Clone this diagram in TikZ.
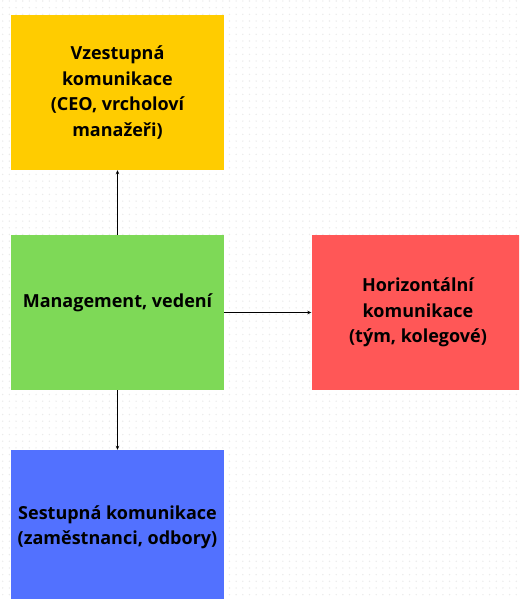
\documentclass[tikz,border=0pt]{standalone}
\usepackage{fontspec}
\setmainfont{Open Sans}
\usetikzlibrary{arrows.meta}
\definecolor{boxyellow}{HTML}{FFCC00}
\definecolor{boxgreen}{HTML}{7ED957}
\definecolor{boxred}{HTML}{FF5757}
\definecolor{boxblue}{HTML}{5271FF}
\definecolor{dotgray}{HTML}{EBEBEB}
\begin{document}
\begin{tikzpicture}[
  commblock/.style = {rectangle, inner sep = 0pt, align = flush center, minimum width = 213pt, minimum height = 155pt, font = \fontsize{18}{25.5}\selectfont\bfseries},
  x = 1pt,
  y = -1pt,
  >={Stealth[length=4pt, width=3.5pt]}
]
  \useasboundingbox (0, 0) rectangle (519, 599);
  \clip (0, 0) rectangle (519, 599);
  % background dots
  \foreach \i in {0,...,77}
    \foreach \j in {0,...,89}
      \fill[dotgray] (\i*6.67 + 2.7, \j*6.67 + 1) circle (0.8);

  \node[commblock, fill = boxyellow] (up) at (117.5, 92.5) {Vzestupná\\komunikace\\(CEO, vrcholoví\\manažeři)};
  \node[commblock, fill = boxgreen, text depth = 24pt] (mg) at (117.5, 312.5) {Management, vedení};
  \node[commblock, fill = boxred] (hz) at (418, 312.5) {Horizontální\\komunikace\\(tým, kolegové)};
  \node[commblock, fill = boxblue] (dn) at (117.5, 527.5) {Sestupná komunikace\\(zaměstnanci, odbory)};

  \draw[->, line width = 0.8pt] (mg) -- (up);
  \draw[->, line width = 0.8pt] (mg) -- (dn);
  \draw[->, line width = 0.8pt] (mg) -- (hz);
\end{tikzpicture}
\end{document}
